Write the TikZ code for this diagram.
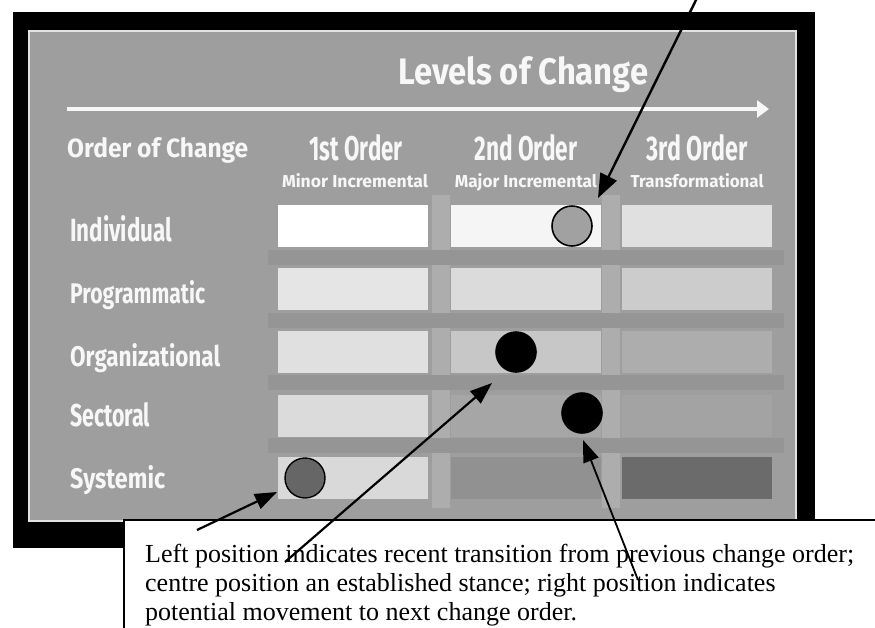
\documentclass[tikz,border=0pt]{standalone}
\usepackage{fontspec}
\setmainfont{Liberation Serif}
\newfontfamily\slidefont{Fira Sans}
\usepackage{graphicx}
\usetikzlibrary{arrows.meta}

\definecolor{panel}{gray}{0.62}
\definecolor{labelwhite}{gray}{0.97}

% squeeze a label into a given width and height (in pt)
\newcommand{\squeeze}[3]{\resizebox{#1pt}{#2pt}{#3}}

\begin{document}
\begin{tikzpicture}[x=1pt, y=-1pt,
  lbl/.style={inner sep=0pt, text=labelwhite, font=\slidefont\bfseries},
  cell/.style={minimum width=150pt, minimum height=42pt, inner sep=0pt, draw=none},
  dot/.style={circle, minimum size=40pt, inner sep=0pt, draw=black, line width=1.6pt},
  pointer/.style={draw=black, line width=2.2pt, -{Triangle[length=22pt,width=16pt]}},
  notetext/.style={anchor=base west, inner sep=0pt, font=\fontsize{26}{29}\selectfont},
]
\useasboundingbox (0,0) rectangle (875,627);
\clip (0,0) rectangle (875,627);

% slide frame and grey panel
\fill[black] (13,12) rectangle (815,548);
\fill[panel] (28,30) rectangle (797,522);
\draw[white!70!panel, line width=1.2pt] (29,31) rectangle (796,521);

% faint background banding of the slide
\fill[white!15!panel] (432,195) rectangle (450,508);
\fill[white!15!panel] (602,195) rectangle (620,508);
\foreach \y in {250,313,375,438}
  \fill[black!6!panel] (268,\y) rectangle (784,\y+15);

% title and direction arrow
\node[lbl, anchor=base west] (title) at (398,84) {\squeeze{250}{28}{Levels of Change}};
\coordinate (axisstart) at (67,109);
\coordinate (axisend) at (769,109);
\draw[white!92!panel, line width=4.5pt, -{Triangle[length=12pt,width=17pt]}] (axisstart) -- (axisend);

% column headings
\node[lbl, anchor=base west] (orderhead) at (67,157) {\squeeze{181}{20}{Order of Change}};
\node[lbl, anchor=base] (first) at (356,160) {\squeeze{93}{26}{1st Order}};
\node[lbl, anchor=base] (second) at (526,160) {\squeeze{103}{26}{2nd Order}};
\node[lbl, anchor=base] (third) at (697,160) {\squeeze{101}{26}{3rd Order}};
\node[lbl, anchor=base] (firstsub) at (355,187) {\squeeze{146}{14}{Minor Incremental}};
\node[lbl, anchor=base] (secondsub) at (526,187) {\squeeze{142}{14}{Major Incremental}};
\node[lbl, anchor=base] (thirdsub) at (697,187) {\squeeze{133}{14}{Transformational}};

% row headings
\node[lbl, anchor=base west] (individual) at (70,241) {\squeeze{102}{26}{Individual}};
\node[lbl, anchor=base west] (programmatic) at (70,303) {\squeeze{135}{23}{Programmatic}};
\node[lbl, anchor=base west] (organizational) at (70,366) {\squeeze{150}{23}{Organizational}};
\node[lbl, anchor=base west] (sectoral) at (70,426) {\squeeze{80}{24}{Sectoral}};
\node[lbl, anchor=base west] (systemic) at (70,488) {\squeeze{95}{23}{Systemic}};

% grid of cells, lighter for lower orders and levels
\node[cell, fill=white] (c11) at (353,226) {};
\node[cell, fill=white!96!black] (c12) at (526,226) {};
\node[cell, fill=white!88!black] (c13) at (697,226) {};
\node[cell, fill=white!90!black] (c21) at (353,289) {};
\node[cell, fill=white!86!black] (c22) at (526,289) {};
\node[cell, fill=white!80!black] (c23) at (697,289) {};
\node[cell, fill=white!88!black] (c31) at (353,352) {};
\node[cell, fill=white!78!black] (c32) at (526,352) {};
\node[cell, fill=white!68!black] (c33) at (697,352) {};
\node[cell, fill=white!86!black] (c41) at (353,416) {};
\node[cell, fill=white!65!black] (c42) at (526,416) {};
\node[cell, fill=white!64!black] (c43) at (697,416) {};
\node[cell, fill=white!85!black] (c51) at (353,478) {};
\node[cell, fill=white!57!black] (c52) at (526,478) {};
\node[cell, fill=white!42!black] (c53) at (697,478) {};

% position markers
\node[dot, fill=white!63!black] (dind) at (572,226) {};
\node[dot, fill=black] (dorg) at (516,352) {};
\node[dot, fill=black] (dsec) at (582,413) {};
\node[dot, fill=white!40!black, line width=1.4pt] (dsys) at (305,478) {};

% explanatory note
\fill[white] (124,520) rectangle (890,640);
\draw[black, line width=1.8pt] (124,640) -- (124,520) -- (890,520);
\node[notetext] (noteone) at (145,562) {Left position indicates recent transition from previous change order;};
\node[notetext] (notetwo) at (145,591) {centre position an established stance; right position indicates};
\node[notetext] (notethree) at (145,620) {potential movement to next change order.};

% pointers
\coordinate (topstart) at (697,-2);
\coordinate (toptip) at (598,198);
\coordinate (leftstart) at (197,530);
\coordinate (lefttip) at (277,492);
\coordinate (midstart) at (285,562);
\coordinate (midtip) at (492,383);
\coordinate (rightstart) at (638,580);
\coordinate (righttip) at (583,440);
\draw[pointer, line width=2.4pt, -{Triangle[length=24pt,width=18pt]}] (topstart) -- (toptip);
\draw[pointer] (leftstart) -- (lefttip);
\draw[pointer] (midstart) -- (midtip);
\draw[pointer, line width=1.8pt] (rightstart) -- (righttip);
\end{tikzpicture}
\end{document}
